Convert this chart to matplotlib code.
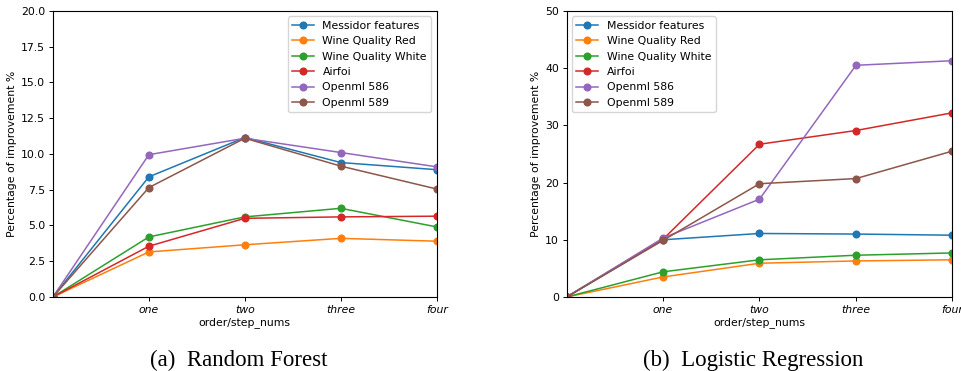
import numpy as np
import matplotlib
matplotlib.use('Agg')
import matplotlib.pyplot as plt

# x positions: start point (0) + one..four
steps = [0, 1, 2, 3, 4]
step_labels = ['one', 'two', 'three', 'four']
names = ['Messidor features', 'Wine Quality Red', 'Wine Quality White',
         'Airfoi', 'Openml 586', 'Openml 589']
colors = ['#1f77b4', '#ff7f0e', '#2ca02c', '#d62728', '#9467bd', '#8c564b']

# Random Forest
rf_messidor = [0, 8.4, 11.15, 9.4, 8.9]
rf_wine_red = [0, 3.15, 3.65, 4.1, 3.9]
rf_wine_white = [0, 4.2, 5.6, 6.2, 4.9]
rf_airfoi = [0, 3.55, 5.5, 5.6, 5.65]
rf_openml586 = [0, 9.95, 11.1, 10.1, 9.1]
rf_openml589 = [0, 7.65, 11.1, 9.15, 7.55]

# Logistic Regression
lr_messidor = [0, 10.0, 11.1, 11.0, 10.8]
lr_wine_red = [0, 3.5, 5.9, 6.3, 6.5]
lr_wine_white = [0, 4.4, 6.5, 7.3, 7.7]
lr_airfoi = [0, 10.1, 26.7, 29.1, 32.2]
lr_openml586 = [0, 10.3, 17.1, 40.5, 41.3]
lr_openml589 = [0, 9.9, 19.8, 20.7, 25.5]

rf_data = [rf_messidor, rf_wine_red, rf_wine_white, rf_airfoi, rf_openml586, rf_openml589]
lr_data = [lr_messidor, lr_wine_red, lr_wine_white, lr_airfoi, lr_openml586, lr_openml589]

fs = 7.8
fig = plt.figure(figsize=(9.62, 3.71), dpi=100)
ax1 = fig.add_axes([0.055, 0.1995, 0.399, 0.771])
ax2 = fig.add_axes([0.589, 0.1995, 0.401, 0.771])


def draw(ax, data, ymax, yticks, legend_loc):
    for vals, name, c in zip(data, names, colors):
        ax.plot(steps, vals, marker='o', color=c, label=name, lw=1.1, ms=4.8)
    ax.set_xlim(0, 4)
    ax.set_ylim(0, ymax)
    ax.set_xticks(steps[1:])
    ax.set_xticklabels(step_labels, fontstyle='italic', fontsize=fs)
    ax.set_yticks(yticks)
    ax.tick_params(axis='y', labelsize=fs, length=3, width=0.7, pad=2.5)
    ax.tick_params(axis='x', length=3, width=0.7, pad=2.5)
    for s in ax.spines.values():
        s.set_linewidth(0.8)
    ax.set_xlabel('order/step_nums', fontsize=fs, labelpad=2)
    ax.set_ylabel('Percentage of improvement %', fontsize=fs, labelpad=3)
    ax.legend(loc=legend_loc, fontsize=fs, borderaxespad=0.5, handlelength=2.0)


draw(ax1, rf_data, 20, np.arange(0, 20.1, 2.5), 'upper right')
ax1.set_yticklabels([f'{v:.1f}' for v in np.arange(0, 20.1, 2.5)])
draw(ax2, lr_data, 50, np.arange(0, 51, 10), 'upper left')

fig.text(0.2485, 0.0135, '(a)  Random Forest', family='Liberation Serif', fontsize=16.5,
         ha='center', va='baseline')
fig.text(0.783, 0.0135, '(b)  Logistic Regression', family='Liberation Serif', fontsize=16.5,
         ha='center', va='baseline')

fig.savefig('out.png', dpi=100)
